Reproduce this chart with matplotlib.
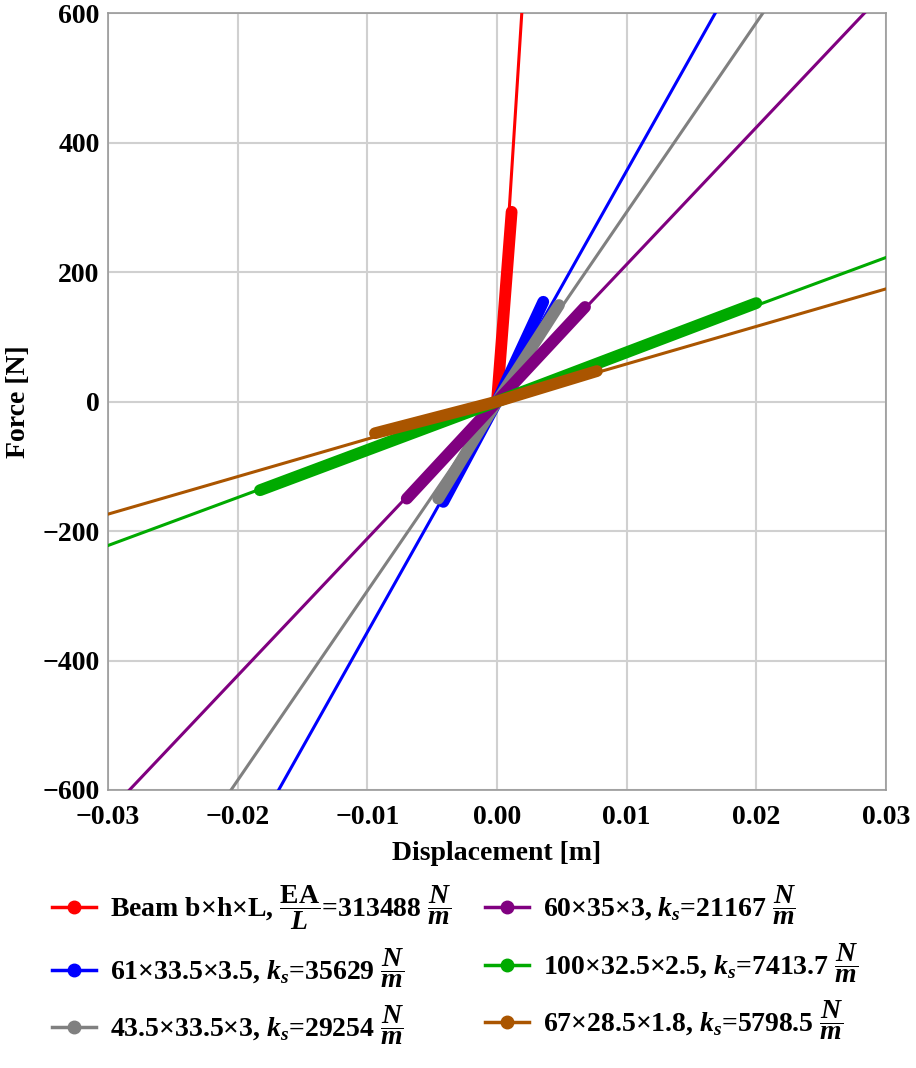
import numpy as np
import matplotlib.pyplot as plt

plt.rcParams['font.family'] = ['Liberation Serif', 'DejaVu Serif']
plt.rcParams['font.weight'] = 'bold'
plt.rcParams['mathtext.fontset'] = 'custom'
plt.rcParams['mathtext.rm'] = 'Liberation Serif:bold'
plt.rcParams['mathtext.it'] = 'Liberation Serif:bold:italic'
plt.rcParams['mathtext.bf'] = 'Liberation Serif:bold'
plt.rcParams['axes.unicode_minus'] = True

# stiffness of each specimen (slope of fitted line), N/m
labels = [
    r'Beam b×h×L, $\dfrac{\mathrm{EA}}{L}$=313488 $\dfrac{N}{m}$',
    r'61×33.5×3.5, $k_s$=35629 $\dfrac{N}{m}$',
    r'43.5×33.5×3, $k_s$=29254 $\dfrac{N}{m}$',
    r'60×35×3, $k_s$=21167 $\dfrac{N}{m}$',
    r'100×32.5×2.5, $k_s$=7413.7 $\dfrac{N}{m}$',
    r'67×28.5×1.8, $k_s$=5798.5 $\dfrac{N}{m}$',
]
stiffness = [313488, 35629, 29254, 21167, 7413.7, 5798.5]
colors = ['#ff0000', '#0000ff', '#808080', '#800080', '#00aa00', '#aa5500']

# measured range of each test (displacement m, force N)
disp_min = [0.0, -0.00414, -0.00453, -0.00696, -0.01828, -0.00941]
disp_max = [0.00113, 0.00357, 0.00478, 0.00679, 0.0200, 0.00771]
force_min = [0.0, -155, -150, -150, -137, -49]
force_max = [293, 154, 149, 146, 152, 47]
# the beam fit is only drawn for tension
fit_from = [0.0, -0.03, -0.03, -0.03, -0.03, -0.03]

fig = plt.figure(figsize=(9.16, 10.68), dpi=100)
ax = fig.add_axes([0.1179, 0.2603, 0.8493, 0.7275])

handles = []
for i in range(len(labels)):
    ax.plot([disp_min[i], 0, disp_max[i]], [force_min[i], 0, force_max[i]],
            color=colors[i], lw=8.5, solid_capstyle='round', zorder=3 + i)
    xs = np.array([fit_from[i], 0.03])
    ax.plot(xs, stiffness[i] * xs, color=colors[i], lw=2.2, zorder=3 + i)
    h, = ax.plot([], [], color=colors[i], lw=2.5, marker='o', ms=9)
    handles.append(h)

ax.set_xlim(-0.03, 0.03)
ax.set_ylim(-600, 600)
ax.set_xticks([-0.03, -0.02, -0.01, 0.0, 0.01, 0.02, 0.03])
ax.set_xticklabels(['\u22120.03', '\u22120.02', '\u22120.01', '0.00', '0.01', '0.02', '0.03'])
ax.set_yticks([-600, -400, -200, 0, 200, 400, 600])
ax.set_yticklabels(['\u2212600', '\u2212400', '\u2212200', '0', '200', '400', '600'])
ax.tick_params(length=0, labelsize=20)
ax.tick_params(axis='x', pad=11)
ax.tick_params(axis='y', pad=6)
for lab in ax.get_xticklabels() + ax.get_yticklabels():
    lab.set_fontweight('bold')
ax.grid(True, color='#d0d0d0', lw=1.5, zorder=0)
ax.axhline(0, color='#999999', lw=1.2, zorder=1)
ax.axvline(0, color='#999999', lw=1.2, zorder=1)
for s in ax.spines.values():
    s.set_color('#999999')
    s.set_linewidth(1.2)

ax.set_xlabel('Displacement [m]', fontsize=20, fontweight='bold', labelpad=8)
ax.set_ylabel('Force [N]', fontsize=20, fontweight='bold', labelpad=8)

fig.legend(handles, labels, loc='upper left', bbox_to_anchor=(0.029, 0.196),
           ncol=2, frameon=False, fontsize=20, handlelength=1.6,
           labelspacing=0.5, columnspacing=1.2, handletextpad=0.5)

fig.savefig('out.png', dpi=100)
